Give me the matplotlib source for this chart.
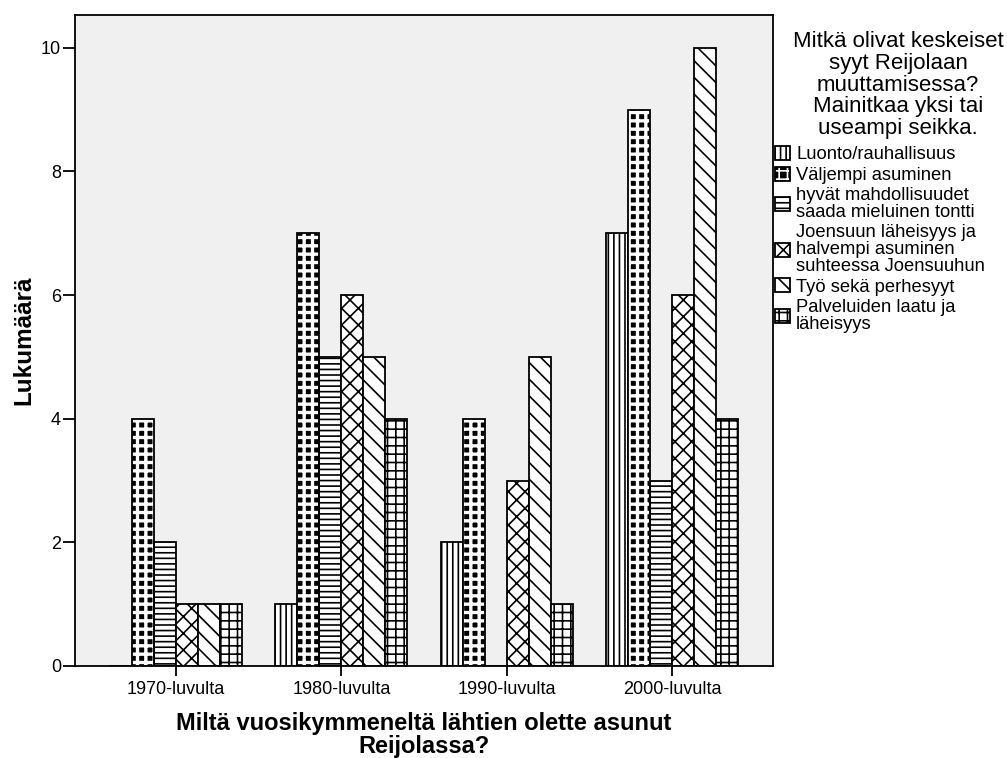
import matplotlib
matplotlib.use("Agg")
import matplotlib.pyplot as plt
import matplotlib.patches as mpatches
from matplotlib.legend_handler import HandlerTuple
import numpy as np

plt.rcParams['font.family'] = ['Liberation Sans', 'DejaVu Sans']
plt.rcParams['hatch.linewidth'] = 1.2

categories = ["1970-luvulta", "1980-luvulta", "1990-luvulta", "2000-luvulta"]
series_names = [
    "Luonto/rauhallisuus",
    "Väljempi asuminen",
    "hyvät mahdollisuudet\nsaada mieluinen tontti",
    "Joensuun läheisyys ja\nhalvempi asuminen\nsuhteessa Joensuuhun",
    "Työ sekä perhesyyt",
    "Palveluiden laatu ja\nläheisyys",
]
luonto = [0, 1, 2, 7]
valjempi = [4, 7, 4, 9]
hyvat = [2, 5, 0, 3]
joensuu = [1, 6, 3, 6]
tyo = [1, 5, 5, 10]
palvelut = [1, 4, 1, 4]
series = [luonto, valjempi, hyvat, joensuu, tyo, palvelut]
hatches = ['|||', None, '---', 'xx', '\\\\', '++']

fig = plt.figure(figsize=(10.07, 7.58), dpi=100)
ax = fig.add_axes([75/1007, 1-666/758, (773-75)/1007, (666-15)/758])
ax.set_facecolor('#f0f0f0')

x = np.arange(len(categories))
w = 0.133
handles = []
for i, (vals, h) in enumerate(zip(series, hatches)):
    pos = x + (i - 2.5) * w
    if i == 1:
        with plt.rc_context({'hatch.linewidth': 2.4}):
            ax.bar(pos, vals, w, color='black', edgecolor='white', hatch='++', linewidth=0, zorder=2)
            p1 = mpatches.Patch(facecolor='black', edgecolor='white', hatch='++', linewidth=0)
        ax.bar(pos, vals, w, fill=False, edgecolor='black', linewidth=1.3, zorder=3)
        p2 = mpatches.Patch(fill=False, edgecolor='black', linewidth=1.3)
        handles.append((p1, p2))
    else:
        ax.bar(pos, vals, w, color='white', edgecolor='black', hatch=h, linewidth=1.3, zorder=2)
        handles.append(mpatches.Patch(facecolor='white', edgecolor='black', hatch=h, linewidth=1.3))

ax.set_xlim(-0.611, 3.611)
ax.set_ylim(0, 10.53)
ax.set_yticks([0, 2, 4, 6, 8, 10])
ax.set_xticks(x)
ax.set_xticklabels(categories)
ax.tick_params(axis='y', length=9, width=1.3, labelsize=13, pad=1)
ax.tick_params(axis='x', length=7, width=1.3, labelsize=13, pad=4)
for s in ax.spines.values():
    s.set_linewidth(1.3)

ax.set_ylabel("Lukumäärä", fontsize=17.5, fontweight='bold', labelpad=4)
ax.set_xlabel("Miltä vuosikymmeneltä lähtien olette asunut\nReijolassa?",
              fontsize=17, fontweight='bold', labelpad=10, linespacing=1.0)

fig.text(898/1007, 1-31/758, "Mitkä olivat keskeiset\nsyyt Reijolaan\nmuuttamisessa?\nMainitkaa yksi tai\nuseampi seikka.",
         ha='center', va='top', fontsize=16, linespacing=1.05)

leg = fig.legend(handles, series_names, loc='upper left',
                 bbox_to_anchor=(775/1007, 1-146/758),
                 frameon=False, fontsize=13.2, handlelength=0.8, handleheight=0.8,
                 handletextpad=0.35, borderpad=0, borderaxespad=0, labelspacing=0.18,
                 handler_map={tuple: HandlerTuple(ndivide=1)})
for t in leg.get_texts():
    t.set_linespacing(0.98)

fig.savefig("out.png", dpi=100)
